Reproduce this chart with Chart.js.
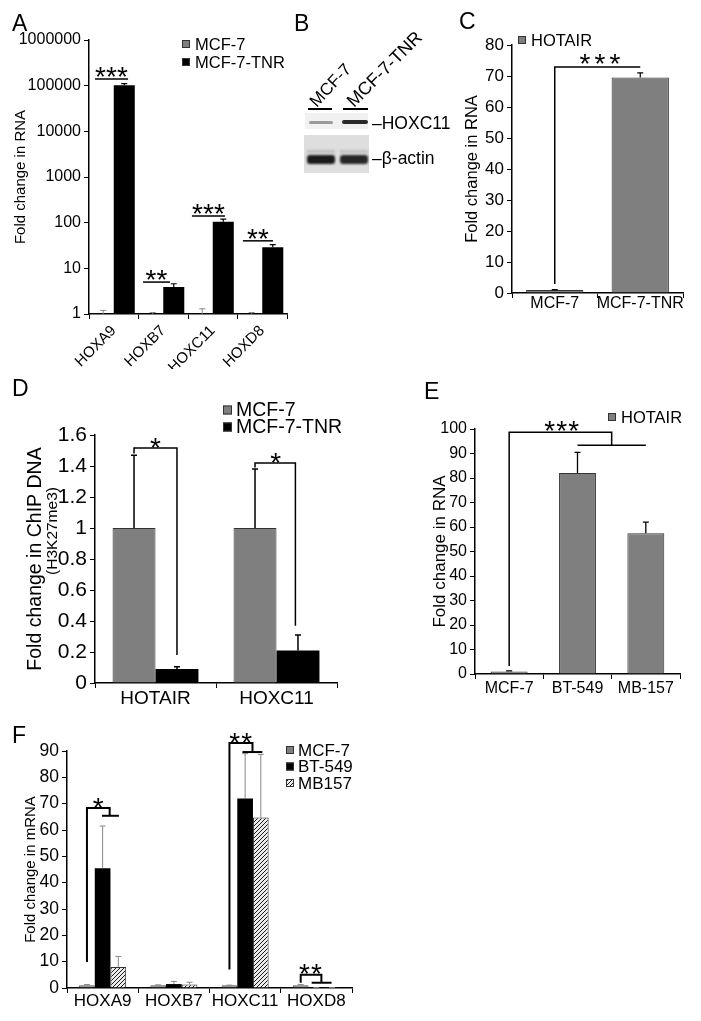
<!DOCTYPE html>
<html>
<head>
<meta charset="utf-8">
<script src="https://cdn.jsdelivr.net/npm/chart.js@4.4.1/dist/chart.umd.min.js"></script>
<style>
  body { margin: 0; background: #fff; font-family: 'Liberation Sans', Arial, sans-serif; }
  #page { position: relative; width: 701px; height: 1021px; overflow: hidden; }
  #page canvas { position: absolute; left: 0; top: 0; }
  .ltr { position: absolute; font-size: 23px; line-height: 1; color: #000; }
  .txt { position: absolute; font-size: 16px; line-height: 16px; color: #000; white-space: nowrap; }
  .rot { transform-origin: 0 100%; }
  .blk { position: absolute; }
</style>
</head>
<body>
<div id="page">
  <canvas id="chartA" width="701" height="1021"></canvas>
  <canvas id="chartC" width="701" height="1021"></canvas>
  <canvas id="chartD" width="701" height="1021"></canvas>
  <canvas id="chartE" width="701" height="1021"></canvas>
  <canvas id="chartF" width="701" height="1021"></canvas>

  <div class="ltr" style="left:12px;top:12px">A</div>
  <div class="ltr" style="left:294px;top:12px">B</div>
  <div class="ltr" style="left:459px;top:10px">C</div>
  <div class="ltr" style="left:12px;top:377px">D</div>
  <div class="ltr" style="left:424px;top:380px">E</div>
  <div class="ltr" style="left:12px;top:724px">F</div>

  <!-- panel B: western blot -->
  <div class="txt rot" style="left:319px;top:93px;font-size:17px;line-height:17px;transform:rotate(-47deg)">MCF-7</div>
  <div class="txt rot" style="left:356px;top:93px;font-size:18px;line-height:17px;transform:rotate(-45deg)">MCF-7-TNR</div>
  <div class="blk" style="left:308px;top:108px;width:24px;height:1.5px;background:#000"></div>
  <div class="blk" style="left:343px;top:108px;width:25px;height:1.5px;background:#000"></div>
  <div class="blk" style="left:305px;top:113px;width:63px;height:16px;background:#f1f1f1"></div>
  <div class="blk" style="left:309px;top:121px;width:24px;height:3px;background:#9a9a9a;border-radius:2px;filter:blur(0.6px)"></div>
  <div class="blk" style="left:342px;top:120px;width:26px;height:4px;background:#2a2a2a;border-radius:2px;filter:blur(0.6px)"></div>
  <div class="blk" style="left:304px;top:135px;width:65px;height:38px;background:#dedede"></div>
  <div class="blk" style="left:307px;top:150px;width:28px;height:3px;background:#bdbdbd;filter:blur(0.8px)"></div>
  <div class="blk" style="left:340px;top:150px;width:28px;height:3px;background:#c2c2c2;filter:blur(0.8px)"></div>
  <div class="blk" style="left:307px;top:155px;width:28px;height:9px;background:#1a1a1a;border-radius:3px;filter:blur(0.8px)"></div>
  <div class="blk" style="left:340px;top:155px;width:28px;height:9px;background:#262626;border-radius:3px;filter:blur(0.8px)"></div>
  <div class="txt" style="left:372px;top:115px;font-size:17.5px;line-height:17px">–HOXC11</div>
  <div class="txt" style="left:372px;top:150px;font-size:17.5px;line-height:17px">–β-actin</div>
</div>

<script>
// ---- A: HOX expression, MCF-7 vs MCF-7-TNR (log scale)
const hoxGenes = ['HOXA9', 'HOXB7', 'HOXC11', 'HOXD8'];
const aMcf7 = [1, 1, 1, 1];
const aMcf7Err = [0.2, 0.08, 0.3, 0.08];
const aTnr = [102000, 3.9, 105, 29];
const aTnrErr = [9000, 0.7, 14, 4];
const aTicks = [1, 10, 100, 1000, 10000, 100000, 1000000];

// ---- C: HOTAIR in MCF-7 / MCF-7-TNR
const cLines = ['MCF-7', 'MCF-7-TNR'];
const cHotair = [1, 69.5];
const cHotairErr = [0.1, 1.5];

// ---- D: ChIP H3K27me3
const dTargets = ['HOTAIR', 'HOXC11'];
const dMcf7 = [1, 1];
const dMcf7Err = [0.47, 0.38];
const dTnr = [0.09, 0.21];
const dTnrErr = [0.015, 0.1];

// ---- E: HOTAIR in TNBC lines
const eLines = ['MCF-7', 'BT-549', 'MB-157'];
const eHotair = [1, 82, 57.5];
const eHotairErr = [0.3, 8.5, 4.5];

// ---- F: HOX mRNA in TNBC lines
const fMcf7 = [1, 1, 1, 1];
const fMcf7Err = [0.3, 0.2, 0.1, 0.3];
const fBt549 = [45.5, 1.5, 72, 0.08];
const fBt549Err = [16, 1, 17, 0.05];
const fMb157 = [8, 1.3, 64.7, 0.08];
const fMb157Err = [4, 0.9, 24, 0.05];

const W = 701, H = 1021;
const GRAY = '#7f7f7f';
const FONT = "'Liberation Sans', Arial, sans-serif";
Chart.defaults.font.family = FONT;
Chart.defaults.color = '#000';

// annotation specs keyed by canvas id (errors, brackets, stars, legend)
const notes = {};

function hatch() {
    const c = document.createElement('canvas');
    c.width = 4; c.height = 4;
    const g = c.getContext('2d');
    g.fillStyle = '#ececec';
    g.fillRect(0, 0, 4, 4);
    g.strokeStyle = '#1a1a1a';
    g.lineWidth = 1;
    g.beginPath();
    g.moveTo(0, 4); g.lineTo(4, 0);
    g.moveTo(-1, 1); g.lineTo(1, -1);
    g.moveTo(3, 5); g.lineTo(5, 3);
    g.stroke();
    return g.createPattern(c, 'repeat');
}

// x pixel of bar d inside category i (both may be fractional)
function barX(chart, i, d) {
    const n = chart.data.datasets.length;
    const bw = chart.getDatasetMeta(0).data[0].width;
    return chart.scales.x.getPixelForValue(i) + (d - (n - 1) / 2) * bw;
}

const marksPlugin = {
    id: 'marks',
    afterDatasetsDraw(chart) {
        const spec = notes[chart.canvas.id];
        if (!spec) return;
        const ctx = chart.ctx;
        const y = chart.scales.y;
        ctx.save();

        // error bars (upper only)
        (spec.errors || []).forEach(e => {
            const vals = chart.data.datasets[e.ds].data;
            chart.getDatasetMeta(e.ds).data.forEach((bar, i) => {
                const y0 = y.getPixelForValue(vals[i]);
                const y1 = y.getPixelForValue(vals[i] + e.err[i]);
                ctx.strokeStyle = e.color;
                ctx.lineWidth = e.width;
                ctx.beginPath();
                ctx.moveTo(bar.x, y0);
                ctx.lineTo(bar.x, y1);
                ctx.moveTo(bar.x - e.cap, y1);
                ctx.lineTo(bar.x + e.cap, y1);
                ctx.stroke();
            });
        });

        // significance brackets
        ctx.strokeStyle = '#000';
        ctx.lineWidth = spec.lineWidth || 1.5;
        (spec.brackets || []).forEach(pts => {
            ctx.beginPath();
            pts.forEach(([i, d, v], k) => {
                const px = barX(chart, i, d), py = y.getPixelForValue(v);
                if (k) ctx.lineTo(px, py); else ctx.moveTo(px, py);
            });
            ctx.stroke();
        });

        // asterisks
        ctx.fillStyle = '#000';
        ctx.textAlign = 'center';
        ctx.textBaseline = 'alphabetic';
        (spec.stars || []).forEach(s => {
            const size = s.size || 28;
            const cx = barX(chart, s.i, s.d);
            const cy = y.getPixelForValue(s.v) - (s.dy || 8);
            ctx.font = `${size}px ${FONT}`;
            for (let k = 0; k < s.n; k++) {
                ctx.fillText('*', cx + (k - (s.n - 1) / 2) * (s.gap || 11), cy + 0.57 * size);
            }
        });

        // y tick labels placed on the scale's own tick pixels (log panel)
        if (spec.yLabels) {
            const Y = spec.yLabels;
            ctx.font = `${Y.size}px ${FONT}`;
            ctx.textAlign = 'right';
            ctx.textBaseline = 'middle';
            ctx.fillStyle = '#000';
            Y.values.forEach(v => ctx.fillText(String(v), y.right - Y.gap, y.getPixelForValue(v)));
        }

        // legend from datasets
        if (spec.legend) {
            const L = spec.legend;
            ctx.textAlign = 'left';
            ctx.textBaseline = 'middle';
            ctx.font = `${L.size}px ${FONT}`;
            chart.data.datasets.forEach((ds, k) => {
                const cy = L.y + k * L.step;
                ctx.fillStyle = ds.backgroundColor;
                ctx.fillRect(L.x, cy - L.box / 2, L.box, L.box);
                ctx.strokeStyle = '#333';
                ctx.lineWidth = 1;
                ctx.strokeRect(L.x + 0.5, cy - L.box / 2 + 0.5, L.box - 1, L.box - 1);
                ctx.fillStyle = '#000';
                ctx.fillText(ds.label, L.x + L.box + L.pad, cy + 1);
            });
        }

        // extra rotated text (axis title lines)
        (spec.texts || []).forEach(t => {
            ctx.save();
            ctx.translate(t.x, t.y);
            ctx.rotate(-Math.PI / 2);
            ctx.font = `${t.size}px ${FONT}`;
            ctx.textAlign = 'center';
            ctx.textBaseline = 'middle';
            ctx.fillStyle = '#000';
            ctx.fillText(t.text, 0, 0);
            ctx.restore();
        });
        ctx.restore();
    }
};

// chart area is placed at [x0,x1] x [y0,y1] on the page
function panelOptions(p) {
    const a = p.area;
    return {
        responsive: false,
        animation: false,
        events: [],
        layout: { padding: { left: a.x0 - p.yW, top: a.y0, right: W - a.x1, bottom: H - a.y1 - p.xH } },
        datasets: { bar: { barPercentage: 1, categoryPercentage: p.catPct } },
        plugins: { legend: { display: false }, tooltip: { enabled: false } },
        scales: {
            x: {
                afterFit: s => { s.height = p.xH; },
                grid: { drawOnChartArea: false, drawTicks: true, tickLength: 5, color: '#000', lineWidth: 1, offset: true },
                border: { display: true, color: '#000', width: 1.5 },
                ticks: { color: '#000', font: { size: p.xTick }, padding: p.xPad, autoSkip: false, maxRotation: 0 }
            },
            y: {
                min: p.min,
                max: p.max,
                afterFit: s => { s.width = p.yW; },
                grid: { drawOnChartArea: false, drawTicks: true, tickLength: 5, color: '#000', lineWidth: 1 },
                border: { display: true, color: '#000', width: 1.5 },
                ticks: { color: '#000', font: { size: p.yTick }, padding: 3, stepSize: p.step, callback: v => String(+(+v).toFixed(2)) },
                title: { display: true, text: p.title, color: '#000', font: { size: p.titleSize }, padding: { top: 4, bottom: 4 } }
            }
        }
    };
}

// ---- A
notes.chartA = {
    errors: [
        { ds: 0, err: aMcf7Err, color: '#8a8a8a', width: 1, cap: 3 },
        { ds: 1, err: aTnrErr, color: '#000', width: 1.2, cap: 3 }
    ],
    brackets: [
        [[0, -0.39, 1.4e5], [0, 1.18, 1.4e5]],
        [[1, -0.46, 5], [1, 0.82, 5]],
        [[2, -0.49, 140], [2, 1.08, 140]],
        [[3, -0.42, 40], [3, 1.01, 40]]
    ],
    stars: [
        { i: 0, d: 0.39, v: 1.4e5, n: 3, dy: 9 },
        { i: 1, d: 0.18, v: 5, n: 2, dy: 9 },
        { i: 2, d: 0.3, v: 140, n: 3, dy: 9 },
        { i: 3, d: 0.3, v: 40, n: 2, dy: 9 }
    ],
    yLabels: { values: aTicks, size: 16, gap: 8 },
    texts: [{ text: 'Fold change in RNA', x: 21, y: 177, size: 15 }],
    legend: { x: 182, y: 44, step: 18, box: 8, pad: 5, size: 16.5 }
};
new Chart(document.getElementById('chartA'), {
    type: 'bar',
    data: {
        labels: hoxGenes,
        datasets: [
            { label: 'MCF-7', data: aMcf7, backgroundColor: GRAY, borderWidth: 0 },
            { label: 'MCF-7-TNR', data: aTnr, backgroundColor: '#000' }
        ]
    },
    options: {
        responsive: false,
        animation: false,
        events: [],
        layout: { padding: { left: 8, top: 40, right: W - 287, bottom: H - 314 - 55 } },
        datasets: { bar: { barPercentage: 1, categoryPercentage: 0.85 } },
        plugins: { legend: { display: false }, tooltip: { enabled: false } },
        scales: {
            x: {
                afterFit: s => { s.height = 55; },
                grid: { drawOnChartArea: false, drawTicks: true, tickLength: 5, color: '#000', offset: true },
                border: { display: true, color: '#000', width: 1.5 },
                ticks: { font: { size: 15 }, minRotation: 45, maxRotation: 45, autoSkip: false }
            },
            y: {
                type: 'logarithmic',
                min: 1,
                max: 1000000,
                afterFit: s => { s.width = 81; },
                grid: { drawOnChartArea: false, drawTicks: true, tickLength: 5, color: '#000' },
                border: { display: true, color: '#000', width: 1.5 },
                afterBuildTicks: s => { s.ticks = aTicks.map(v => ({ value: v })); },
                ticks: { display: false },
                title: { display: false }
            }
        }
    },
    plugins: [marksPlugin]
});

// ---- C
notes.chartC = {
    errors: [{ ds: 0, err: cHotairErr, color: '#000', width: 1.2, cap: 3 }],
    brackets: [[[0, 0, 2.9], [0, 0, 72.9], [1, 0, 72.9]]],
    stars: [{ i: 0.53, d: 0, v: 72.9, n: 3, gap: 15, dy: 10 }],
    legend: { x: 518, y: 40, step: 18, box: 8, pad: 5, size: 16.5 }
};
new Chart(document.getElementById('chartC'), {
    type: 'bar',
    data: {
        labels: cLines,
        datasets: [{ label: 'HOTAIR', data: cHotair, backgroundColor: GRAY, borderColor: '#333', borderWidth: 1 }]
    },
    options: panelOptions({
        area: { x0: 512, x1: 683, y0: 45, y1: 293 }, yW: 53, xH: 25, min: 0, max: 80, step: 10,
        title: 'Fold change in RNA', titleSize: 16.5, yTick: 17, xTick: 16, xPad: -4, catPct: 0.67
    }),
    plugins: [marksPlugin]
});

// ---- D
notes.chartD = {
    errors: [
        { ds: 0, err: dMcf7Err, color: '#000', width: 1.5, cap: 3 },
        { ds: 1, err: dTnrErr, color: '#000', width: 1.5, cap: 3 }
    ],
    brackets: [
        [[0, 0, 1.48], [0, 0, 1.516], [0, 1, 1.516], [0, 1, 0.18]],
        [[1, 0, 1.39], [1, 0, 1.42], [1, 0.94, 1.42], [1, 0.94, 0.37]]
    ],
    stars: [
        { i: 0, d: 0.5, v: 1.516, n: 1, dy: 7 },
        { i: 1, d: 0.48, v: 1.42, n: 1, dy: 7 }
    ],
    legend: { x: 223, y: 410, step: 17, box: 9, pad: 4, size: 19.5 },
    texts: [{ text: '(H3K27me3)', x: 53, y: 531, size: 15.5 }]
};
new Chart(document.getElementById('chartD'), {
    type: 'bar',
    data: {
        labels: dTargets,
        datasets: [
            { label: 'MCF-7', data: dMcf7, backgroundColor: GRAY, borderColor: '#333', borderWidth: 1 },
            { label: 'MCF-7-TNR', data: dTnr, backgroundColor: '#000' }
        ]
    },
    options: panelOptions({
        area: { x0: 95, x1: 337, y0: 435, y1: 683 }, yW: 75, xH: 32, min: 0, max: 1.6, step: 0.2,
        title: 'Fold change in ChIP DNA', titleSize: 19.5, yTick: 21, xTick: 19, xPad: -1, catPct: 0.71
    }),
    plugins: [marksPlugin]
});

// ---- E
notes.chartE = {
    errors: [{ ds: 0, err: eHotairErr, color: '#000', width: 1.3, cap: 3 }],
    brackets: [
        [[0, 0, 3.3], [0, 0, 98.7], [1.5, 0, 98.7], [1.5, 0, 93.4]],
        [[1, 0, 93.4], [2, 0, 93.4]]
    ],
    stars: [{ i: 0.77, d: 0, v: 98.7, n: 3, gap: 12, dy: 8 }],
    legend: { x: 608, y: 417, step: 18, box: 8, pad: 5, size: 16.5 }
};
new Chart(document.getElementById('chartE'), {
    type: 'bar',
    data: {
        labels: eLines,
        datasets: [{ label: 'HOTAIR', data: eHotair, backgroundColor: GRAY, borderColor: '#333', borderWidth: 1 }]
    },
    options: panelOptions({
        area: { x0: 475, x1: 680, y0: 429, y1: 674 }, yW: 49, xH: 25, min: 0, max: 100, step: 10,
        title: 'Fold change in RNA', titleSize: 17, yTick: 16, xTick: 16, xPad: 0, catPct: 0.54
    }),
    plugins: [marksPlugin]
});

// ---- F
notes.chartF = {
    errors: [
        { ds: 0, err: fMcf7Err, color: '#888', width: 1, cap: 3 },
        { ds: 1, err: fBt549Err, color: '#888', width: 1, cap: 3 },
        { ds: 2, err: fMb157Err, color: '#888', width: 1, cap: 3 }
    ],
    lineWidth: 2,
    brackets: [
        [[0, 0, 9.9], [0, 0, 68.4], [0, 1.45, 68.4], [0, 1.45, 65.4]],
        [[0, 0.96, 65.4], [0, 2.04, 65.4]],
        [[2, 0, 7], [2, 0, 93], [2, 1.47, 93], [2, 1.47, 89.6]],
        [[2, 0.83, 89.6], [2, 2.1, 89.6]],
        [[3, 0, 2], [3, 0, 5], [3, 1.32, 5], [3, 1.32, 2]],
        [[3, 0.7, 2], [3, 1.97, 2]]
    ],
    stars: [
        { i: 0, d: 0.71, v: 68.4, n: 1, dy: 7 },
        { i: 2, d: 0.71, v: 93, n: 2, gap: 12, dy: 7 },
        { i: 3, d: 0.62, v: 5, n: 2, gap: 12, dy: 8 }
    ],
    legend: { x: 286, y: 750, step: 16.5, box: 8, pad: 4, size: 17 }
};
new Chart(document.getElementById('chartF'), {
    type: 'bar',
    data: {
        labels: hoxGenes,
        datasets: [
            { label: 'MCF-7', data: fMcf7, backgroundColor: GRAY, borderColor: '#555', borderWidth: 1 },
            { label: 'BT-549', data: fBt549, backgroundColor: '#000' },
            { label: 'MB157', data: fMb157, backgroundColor: hatch(), borderColor: '#333', borderWidth: 1 }
        ]
    },
    options: panelOptions({
        area: { x0: 67, x1: 352, y0: 751, y1: 988 }, yW: 49, xH: 30, min: 0, max: 90, step: 10,
        title: 'Fold change in mRNA', titleSize: 15, yTick: 17.5, xTick: 17, xPad: -2, catPct: 0.66
    }),
    plugins: [marksPlugin]
});
</script>
</body>
</html>
